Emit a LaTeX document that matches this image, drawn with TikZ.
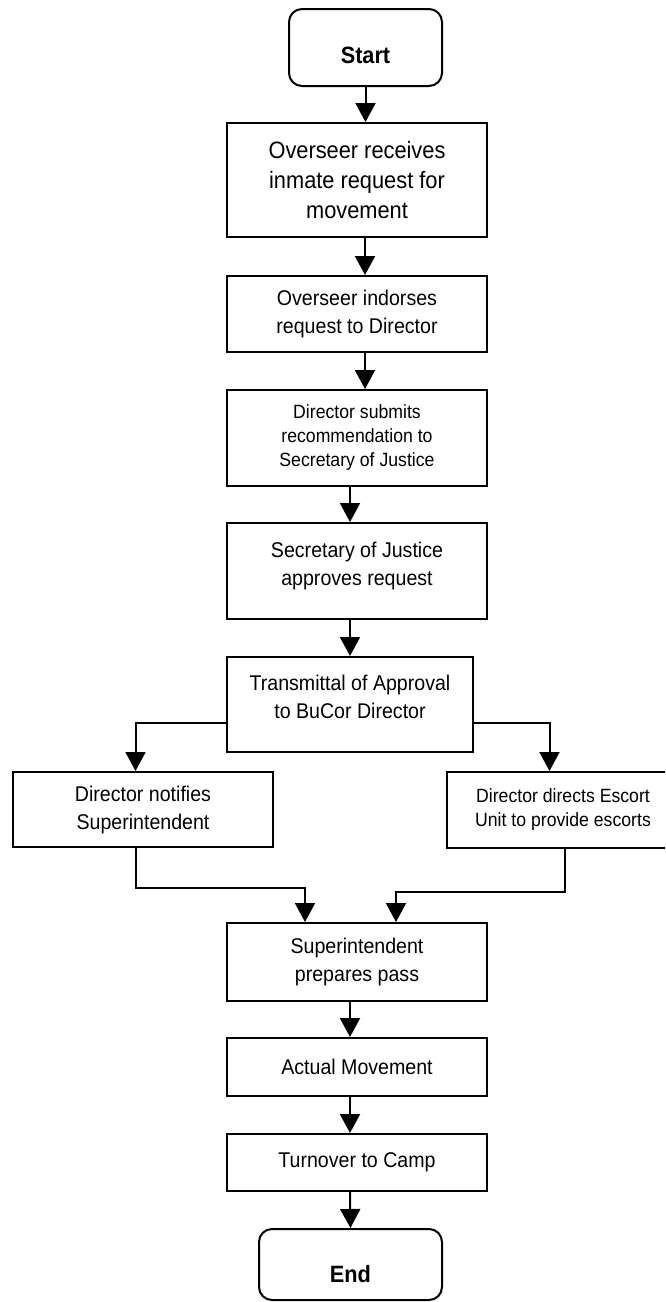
\documentclass[tikz,border=0pt]{standalone}
\usepackage{fontspec}
\setmainfont{Liberation Sans}[FakeStretch=0.92]
\usetikzlibrary{arrows.meta}

\begin{document}
\begin{tikzpicture}[x=0.5pt,y=-0.5pt,line width=1pt,
  >={Triangle[width=10pt,length=9.5pt]},
  main node/.style={draw,rectangle,inner sep=0pt,align=center,
    font=\fontsize{10.65}{14}\selectfont},
  big node/.style={main node,font=\fontsize{11.85}{15}\selectfont},
  small node/.style={main node,font=\fontsize{9.6}{12}\selectfont},
  term node/.style={draw,rectangle,rounded corners=6.5pt,inner sep=0pt,
    text depth=0pt,font=\bfseries\fontsize{11.8}{14}\selectfont}]

  \useasboundingbox (0,0) rectangle (665,1302);
  \clip (0,0) rectangle (665,1302);

  \node[term node,minimum width=76.5pt,minimum height=38.5pt,text height=15.9pt] (1) at (365.5,47.5) {Start};
  \node[big node,minimum width=130pt,minimum height=57pt] (2) at (357,180) {Overseer receives\\inmate request for\\movement};
  \node[main node,minimum width=130pt,minimum height=38pt] (3) at (357,314) {Overseer indorses\\request to Director};
  \node[small node,minimum width=130pt,minimum height=48pt] (4) at (357,438) {Director submits\\recommendation to\\Secretary of Justice};
  \node[main node,minimum width=130pt,minimum height=48pt,text height=14.1pt,text depth=0pt] (5) at (357,571) {Secretary of Justice\\approves request};
  \node[main node,minimum width=123pt,minimum height=47.5pt,text height=14.1pt,text depth=0pt] (6) at (350,704.5) {Transmittal of Approval\\to BuCor Director};
  \node[main node,minimum width=130pt,minimum height=37.5pt] (7) at (143,809.5) {Director notifies\\Superintendent};
  \node[small node,minimum width=116pt,minimum height=38pt] (8) at (563,810) {Director directs Escort\\Unit to provide escorts};
  \node[main node,minimum width=130pt,minimum height=39pt] (9) at (357,962) {Superintendent\\prepares pass};
  \node[main node,minimum width=130pt,minimum height=29pt] (10) at (357,1067) {Actual Movement};
  \node[main node,minimum width=130pt,minimum height=28.5pt] (11) at (357,1162.5) {Turnover to Camp};
  \node[term node,minimum width=91.5pt,minimum height=35.5pt,text height=17.9pt] (12) at (350.5,1264.5) {End};

  \path[->]
    (1.south) edge (1.south |- 2.north)
    ([xshift=4pt]2.south) edge ([xshift=4pt]3.north)
    ([xshift=4pt]3.south) edge ([xshift=4pt]4.north)
    ([xshift=-3.5pt]4.south) edge ([xshift=-3.5pt]5.north)
    ([xshift=-3.5pt]5.south) edge (6.north)
    ([xshift=-3.5pt]9.south) edge ([xshift=-3.5pt]10.north)
    ([xshift=-3.5pt]10.south) edge ([xshift=-3.5pt]11.north)
    ([xshift=-3.5pt]11.south) edge (12.north);

  \draw[->] ([yshift=-9.25pt]6.west) -| ([xshift=-3.75pt]7.north);
  \draw[->] ([yshift=-9.25pt]6.east) -| ([xshift=-6.75pt]8.north);
  \draw[->] ([xshift=-3.75pt]7.south) -- ++(0,40) -| ([xshift=-26pt]9.north);
  \draw[->] ([xshift=1pt]8.south) -- ++(0,43) -| ([xshift=19.5pt]9.north);

\end{tikzpicture}
\end{document}
